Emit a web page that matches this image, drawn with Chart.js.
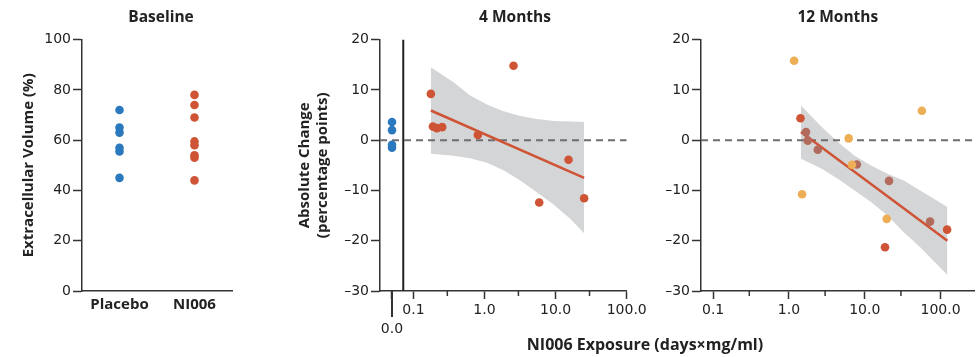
<!DOCTYPE html>
<html lang="en">
<head>
<meta charset="UTF-8">
<title>Extracellular volume and NI006 exposure</title>
<script src="https://cdn.jsdelivr.net/npm/chart.js"></script>
<style>
  body { margin: 0; background: #fff; }
  .wrap { position: relative; width: 979px; height: 357px; overflow: hidden; }
  .panel { position: absolute; top: 0; }
  #exposureLabel {
    position: absolute; left: 445px; top: 333px; width: 400px;
    text-align: center; white-space: nowrap;
    font: bold 16px 'Open Sans', sans-serif; color: #222;
  }
</style>
</head>
<body>
<div class="wrap">
  <canvas id="baseline" class="panel" width="322" height="357" style="left:0px"></canvas>
  <canvas id="month4" class="panel" width="510" height="357" style="left:260px"></canvas>
  <canvas id="month12" class="panel" width="329" height="357" style="left:650px"></canvas>
  <div id="exposureLabel">NI006 Exposure (days×mg/ml)</div>
</div>
<script>
// baseline ECV (%)
const groups = ['Placebo', 'NI006'];
const basePlacebo = [72, 65, 63, 57, 55.5, 45];
const baseNI006 = [78, 74, 69, 59.5, 58, 54, 53, 44];

// 4 months: change vs exposure
const placeboPos = 0.05;   // spot on the log axis used for the "0.0" column
const breakPos = 0.072;    // axis break line
const m4Placebo = [3.6, 2.0, -0.9, -1.5];
const m4X = [0.176, 0.188, 0.214, 0.254, 0.807, 2.56, 5.88, 15.2, 25.2];
const m4Y = [9.2, 2.7, 2.4, 2.6, 1.05, 14.8, -12.4, -3.9, -11.55];
const m4FitX = [0.176, 25.2];
const m4FitY = [5.9, -7.5];
const m4BandX = [0.176, 0.367, 0.629, 1.08, 1.85, 3.18, 5.45, 9.35, 16.0, 25.2];
const m4BandHi = [14.5, 11.5, 8.9, 7.1, 5.75, 4.8, 4.2, 3.8, 3.7, 3.6];
const m4BandLo = [-2.7, -3.1, -3.6, -4.5, -6.0, -8.0, -10.35, -12.8, -15.65, -18.5];

// 12 months
const m12OrangeX = [1.17, 1.49, 6.14, 6.78, 19.5, 56.7];
const m12OrangeY = [15.8, -10.75, 0.35, -4.9, -15.65, 5.85];
const m12BrownX = [1.68, 1.77, 2.4, 7.87, 20.9, 72.7];
const m12BrownY = [1.6, -0.1, -1.9, -4.85, -8.1, -16.2];
const m12RedX = [1.42, 18.5, 122];
const m12RedY = [4.35, -21.3, -17.8];
const m12FitX = [1.44, 123];
const m12FitY = [1.6, -20.0];
const m12BandX = [1.44, 2.71, 4.46, 7.34, 12.1, 19.9, 32.7, 53.9, 123];
const m12BandHi = [6.9, 2.6, -0.4, -3.1, -5.05, -6.7, -8.0, -10.0, -13.3];
const m12BandLo = [-3.7, -5.7, -7.7, -10.0, -12.3, -15.0, -18.3, -21.3, -26.8];

const xTicks4 = [0.05, 0.1, 1, 10, 100];
const xTicks12 = [0.1, 1, 10, 100];
const minorTicks = [0.3, 3, 30];
const xTickText = { 0.1: '0.1', 1: '1.0', 10: '10.0', 100: '100.0' };
const placeboText = '0.0';

const red = '#cf5436', blue = '#2a78bd', orange = '#eeae55', brown = '#b26b5c';
const band = '#d4d5d7', axisColor = '#333', textColor = '#222', dashColor = '#6e6e6e';
const tickFont = { family: "'DejaVu Sans', sans-serif", size: 14 };
const boldFont = { family: "'Open Sans', sans-serif", size: 15, weight: 'bold' };
const titleFont = { family: "'Open Sans', sans-serif", size: 15.5, weight: 'bold' };

const pts = (xs, ys) => xs.map((x, i) => ({ x: x, y: ys[i] }));
const dots = (data, color) => ({ data: data, backgroundColor: color, borderWidth: 0, pointRadius: 4.3, order: 0 });
const line = (data, color, width, order, dash) => ({
  type: 'line', data: data, borderColor: color, borderWidth: width, borderDash: dash || [],
  pointRadius: 0, fill: false, order: order
});
const bandSets = (xs, hi, lo) => [
  { type: 'line', data: pts(xs, hi), borderWidth: 0, pointRadius: 0, fill: false, order: 3 },
  { type: 'line', data: pts(xs, lo), borderWidth: 0, pointRadius: 0, fill: '-1', backgroundColor: band, order: 3 }
];
const minus = v => v < 0 ? '\u2013' + Math.abs(v) : '' + v;

function titleOpts(text, full) {
  return { display: true, text: text, font: titleFont, color: textColor,
           padding: { top: 8, bottom: 13 }, fullSize: full };
}
// empty axis on the right, only there to keep room so the title centres like the original
function spacer(width) {
  return { type: 'linear', position: 'right', display: true,
           grid: { display: false }, border: { display: false }, ticks: { display: false },
           afterFit: s => { s.width = width; } };
}
function changeY(width) {
  return {
    min: -30, max: 20,
    ticks: { stepSize: 10, callback: minus, font: tickFont, color: textColor, padding: 2 },
    grid: { drawOnChartArea: false, tickLength: 9, tickColor: axisColor, tickWidth: 1.5 },
    border: { color: axisColor, width: 1.5 },
    afterFit: s => { s.width = width; }
  };
}
function logX(min, max, tickVals) {
  return {
    type: 'logarithmic', min: min, max: max,
    afterBuildTicks: s => { s.ticks = tickVals.map(v => ({ value: v })); },
    ticks: { autoSkip: false, maxRotation: 0, font: tickFont, color: textColor, padding: 3,
             callback: v => xTickText[v] || '' },
    grid: { drawOnChartArea: false, tickLength: 8, tickColor: axisColor, tickWidth: 1.5 },
    border: { color: axisColor, width: 1.5 },
    afterFit: s => { s.height = 66; }
  };
}

// short minor ticks, plus the long tick and label under the placebo column
const axisExtras = {
  id: 'axisExtras',
  afterDraw(chart, args, opts) {
    const s = chart.scales.x, ctx = chart.ctx;
    const y0 = chart.chartArea.bottom;
    ctx.save();
    ctx.strokeStyle = axisColor;
    ctx.lineWidth = 1.5;
    minorTicks.forEach(v => {
      const x = s.getPixelForValue(v);
      ctx.beginPath();
      ctx.moveTo(x, y0);
      ctx.lineTo(x, y0 + 5);
      ctx.stroke();
    });
    if (opts.placebo) {
      const x = s.getPixelForValue(placeboPos);
      ctx.lineWidth = 2;
      ctx.beginPath();
      ctx.moveTo(x, y0);
      ctx.lineTo(x, y0 + 26);
      ctx.stroke();
      ctx.fillStyle = textColor;
      ctx.font = "14px 'DejaVu Sans', sans-serif";
      ctx.textAlign = 'center';
      ctx.textBaseline = 'middle';
      ctx.fillText(placeboText, x, y0 + 38);
    }
    ctx.restore();
  }
};

const common = { responsive: false, animation: false, events: [] };

new Chart(document.getElementById('baseline'), {
  type: 'line',
  data: {
    labels: groups,
    datasets: [
      { ...dots(basePlacebo.map(v => ({ x: groups[0], y: v })), blue), showLine: false },
      { ...dots(baseNI006.map(v => ({ x: groups[1], y: v })), red), showLine: false }
    ]
  },
  options: {
    ...common,
    plugins: { legend: { display: false }, tooltip: { enabled: false }, title: titleOpts('Baseline', true) },
    scales: {
      x: {
        type: 'category', offset: true,
        ticks: { font: boldFont, color: textColor, padding: 5 },
        grid: { display: false, drawTicks: false },
        border: { color: axisColor, width: 1.5 },
        afterFit: s => { s.height = 66; }
      },
      y: {
        min: 0, max: 100,
        ticks: { stepSize: 20, font: tickFont, color: textColor, padding: 2 },
        grid: { drawOnChartArea: false, tickLength: 9, tickColor: axisColor, tickWidth: 1.5 },
        border: { color: axisColor, width: 1.5 },
        title: { display: true, text: 'Extracellular Volume (%)', font: boldFont, color: textColor, padding: { top: 20 } },
        afterFit: s => { s.width = 82; }
      },
      pad: spacer(90)
    }
  }
});

new Chart(document.getElementById('month4'), {
  type: 'scatter',
  data: {
    datasets: [
      dots(m4Placebo.map(v => ({ x: placeboPos, y: v })), blue),
      dots(pts(m4X, m4Y), red),
      line(pts(m4FitX, m4FitY), red, 2.5, 1),
      line([{ x: 0.0339, y: 0 }, { x: 100, y: 0 }], dashColor, 2, 2, [7, 5]),
      line([{ x: breakPos, y: -30 }, { x: breakPos, y: 20 }], '#222', 2, 2),
      ...bandSets(m4BandX, m4BandHi, m4BandLo)
    ]
  },
  options: {
    ...common,
    plugins: { legend: { display: false }, tooltip: { enabled: false }, title: titleOpts('4 Months', true),
               axisExtras: { placebo: true } },
    scales: {
      x: logX(0.0339, 100, xTicks4),
      y: { ...changeY(120),
           title: { display: true, text: ['Absolute Change', '(percentage points)'], font: boldFont,
                    color: textColor, padding: { top: 36 } } },
      pad: spacer(143.3)
    }
  },
  plugins: [axisExtras]
});

new Chart(document.getElementById('month12'), {
  type: 'scatter',
  data: {
    datasets: [
      dots(pts(m12OrangeX, m12OrangeY), orange),
      dots(pts(m12BrownX, m12BrownY), brown),
      dots(pts(m12RedX, m12RedY), red),
      line(pts(m12FitX, m12FitY), red, 2.5, 1),
      line([{ x: 0.0692, y: 0 }, { x: 282, y: 0 }], dashColor, 2, 2, [7, 5]),
      ...bandSets(m12BandX, m12BandHi, m12BandLo)
    ]
  },
  options: {
    ...common,
    plugins: { legend: { display: false }, tooltip: { enabled: false }, title: titleOpts('12 Months', false),
               axisExtras: { placebo: false } },
    scales: {
      x: logX(0.0692, 282, xTicks12),
      y: changeY(51)
    }
  },
  plugins: [axisExtras]
});
</script>
</body>
</html>
